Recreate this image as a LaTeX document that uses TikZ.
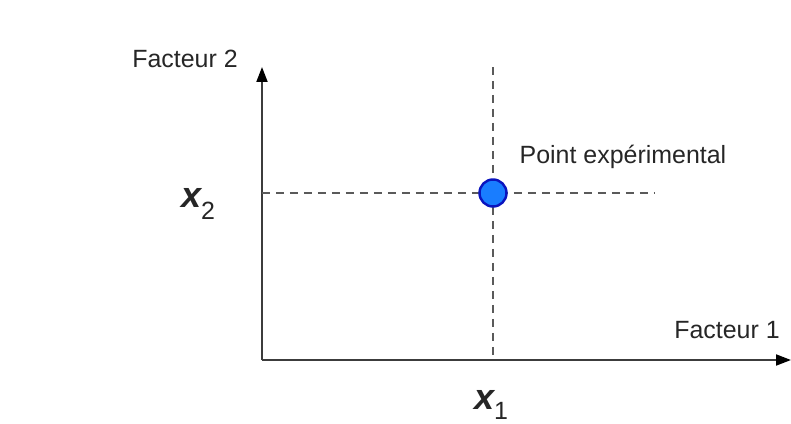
\documentclass[tikz,border=0pt]{standalone}
\usepackage{fontspec}
\setmainfont{Liberation Sans}
\usepackage{tikz}
\usetikzlibrary{arrows.meta,positioning,calc}
\usepackage{xcolor}
\definecolor{axisgray}{RGB}{60,60,60}
\definecolor{dashgray}{RGB}{90,90,90}
\definecolor{pointblue}{RGB}{25,125,255}
\definecolor{pointedge}{RGB}{10,20,190}
\tikzset{
    axis/.style={line width=1.1pt, axisgray, -{Triangle[length=0.3cm,width=0.22cm,color=black]}},
    guide/.style={line width=0.8pt, dashgray, dash pattern=on 0.16cm off 0.12cm},
    expoint/.style={circle, draw=pointedge, fill=pointblue, line width=1.4pt, minimum size=0.54cm, inner sep=0pt},
    axislabel/.style={anchor=base, inner sep=0pt, font=\fontsize{14.2}{17}\selectfont, text=black!85},
    varlabel/.style={anchor=base, inner sep=0pt, text=black!85},
}
\newcommand{\varx}{{\fontsize{20.5}{24}\selectfont\bfseries\itshape x}}
\newcommand{\varidx}[2][0.24cm]{\raisebox{-#1}{\fontsize{14.2}{17}\selectfont #2}}

\begin{document}
\begin{tikzpicture}[x=0.02cm, y=-0.02cm]
    \useasboundingbox (0,0) rectangle (791,423);
    % axes
    \coordinate (O) at (262,360);
    \coordinate (Ytip) at (262,67);
    \coordinate (Xtip) at (791,360);
    \draw[axis] (O) -- (Ytip);
    \draw[axis] (O) -- (Xtip);
    % guides through the point
    \coordinate (vtop) at (493,67);
    \coordinate (vbot) at (493,360);
    \coordinate (hleft) at (262,193);
    \coordinate (hright) at (655,193);
    \draw[guide] (vtop) -- (vbot);
    \draw[guide] (hleft) -- (hright);
    \node[expoint] (P) at (493,193) {};
    % labels
    \node[axislabel] (f2) at (185,67) {Facteur 2};
    \node[axislabel] (f1) at (727,338) {Facteur 1};
    \node[axislabel] (pt) at (623,163) {Point expérimental};
    \node[varlabel] (x2) at (198,207) {\varx\varidx{2}};
    \node[varlabel] (x1) at (491,409) {\varx\varidx[0.2cm]{1}};
\end{tikzpicture}
\end{document}
